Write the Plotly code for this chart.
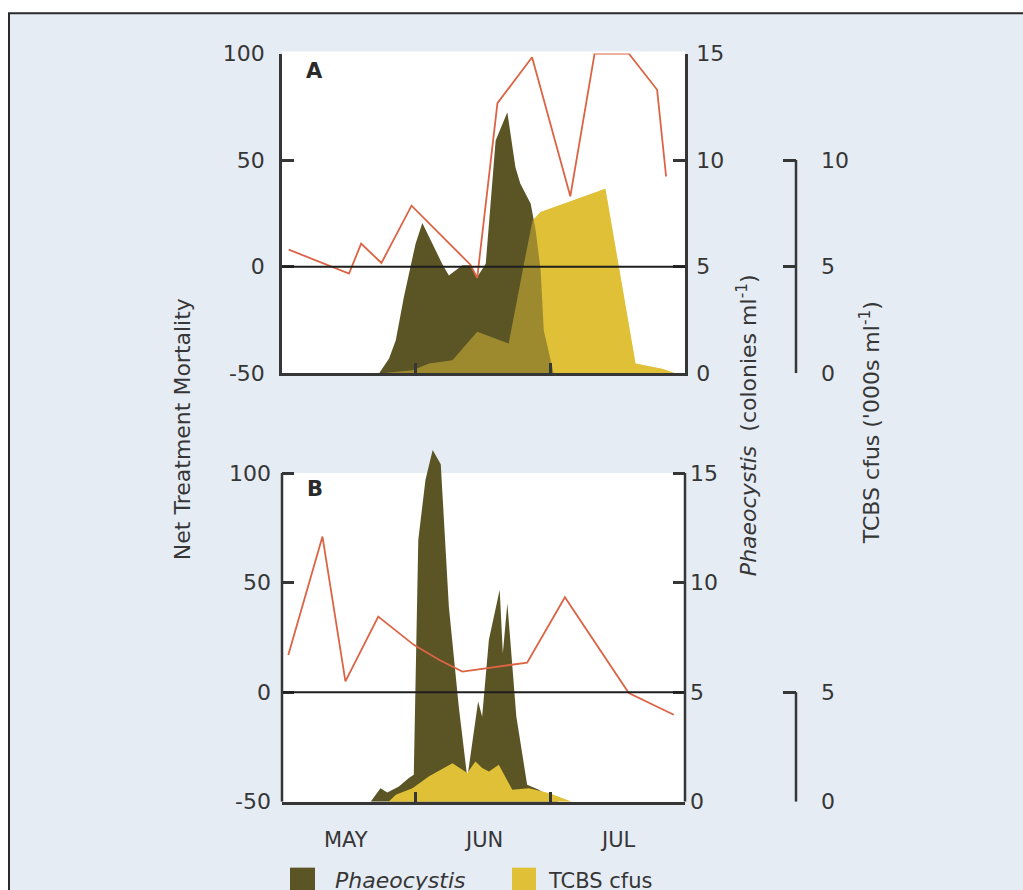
import plotly.graph_objects as go

# ---------------- data (x = days after 30 April: 1 = May 1, 32 = Jun 1, 62 = Jul 1) --------------
# Panel A
mort_A_day = [3.8, 17.2, 19.9, 24.4, 31.1, 44.2, 45.7, 50.2, 57.9, 66.4, 71.8, 79.4, 85.7, 87.7]
mort_A = [8.0, -3.3, 10.8, 1.7, 28.6, 0.9, -5.3, 76.7, 98.3, 33.0, 100.0, 100.0, 83.0, 42.3]

phaeo_A_day = [23.9, 26.1, 27.6, 29.4, 32.0, 33.5, 37.9, 39.4, 42.4, 44.2, 45.7, 47.6, 49.8,
               52.4, 54.2, 55.3, 57.6, 58.7, 59.8, 60.5, 62.7]
phaeo_A = [0, 0.69, 1.55, 3.58, 6.08, 7.05, 5.14, 4.59, 5.06, 5.06, 4.51, 5.14, 10.92,
           12.25, 9.67, 8.89, 7.95, 6.70, 4.83, 2.02, 0]

tcbs_A_day = [24.5, 31.3, 35.0, 40.2, 45.7, 52.7, 56.1, 58.0, 59.8, 74.2, 80.9, 87.0, 89.7]
tcbs_A = [0, 0.14, 0.45, 0.61, 1.94, 1.39, 5.14, 7.17, 7.56, 8.66, 0.45, 0.2, 0]

# Panel B
mort_B_day = [3.7, 11.3, 16.4, 23.7, 31.6, 37.2, 42.4, 47.6, 56.8, 65.2, 79.4, 89.4]
mort_B = [17.0, 71.0, 4.9, 34.5, 21.6, 14.8, 9.4, 10.9, 13.5, 43.3, -0.4, -10.3]

phaeo_B_day = [22.0, 24.2, 25.7, 28.3, 30.5, 31.6, 32.6, 34.2, 35.8, 37.6, 39.4, 41.6, 43.5,
               45.9, 46.8, 48.3, 50.7, 51.4, 52.4, 53.3, 54.4, 56.8, 59.4, 63.8]
phaeo_B = [0, 0.62, 0.42, 0.70, 1.08, 1.23, 11.95, 14.7, 16.05, 15.4, 8.9, 4.35, 1.08,
           4.57, 3.89, 7.39, 9.67, 6.78, 9.06, 6.63, 3.89, 0.78, 0.55, 0]

tcbs_B_day = [26.0, 27.6, 31.3, 35.0, 40.2, 43.5, 45.3, 46.8, 48.3, 50.5, 53.5, 57.2, 61.6, 66.8]
tcbs_B = [0, 0.32, 0.62, 1.16, 1.76, 1.31, 1.84, 1.54, 1.38, 1.69, 0.55, 0.62, 0.40, 0]

month_bounds = [32, 62]
month_labels = ["MAY", "JUN", "JUL"]
month_label_pos = [16.5, 47, 77]

mort_ticks = [-50, 0, 50, 100]
mort_ticktext = ["-50", "0", "50", "100"]
phaeo_ticks = [0, 5, 10, 15]
tcbs_A_ticks = [0, 5, 10]
tcbs_B_ticks = [0, 5]

# ---------------- geometry helpers ----------------
W, H = 1023, 890
# vertical calibration of the rendered page (screen y = CAL_A + CAL_B * figure y)
CAL_A, CAL_B = 11.4, 0.973


def px(x):
    return x / W


def py(y):
    yf = (y - CAL_A) / CAL_B
    return 1 - yf / H


DARK = "#5b5526"
YELLOW = "#dfc036"
RED = "#dc6444"
INK = "#363636"
FONT = "DejaVu Sans"
tickfont = dict(family=FONT, size=22, color=INK)

xdom = [px(282), px(685)]
xrange_ = [2.3, 91.9]
A_dom = [py(373), py(53)]
B_dom = [py(802), py(440)]
B_mort_top = 100 + (473 - 440) / (329 / 150)
B_ph_top = 15 * (802 - 440) / 329

fig = go.Figure()

# Panel A traces (order: yellow, dark, red, yellow translucent overlap)
fig.add_trace(go.Scatter(x=tcbs_A_day, y=tcbs_A, xaxis="x", yaxis="y", mode="lines",
                         line=dict(width=0), fill="tozeroy", fillcolor=YELLOW, hoverinfo="skip"))
fig.add_trace(go.Scatter(x=phaeo_A_day, y=phaeo_A, xaxis="x", yaxis="y2", mode="lines",
                         line=dict(width=0), fill="tozeroy", fillcolor=DARK, hoverinfo="skip"))
fig.add_trace(go.Scatter(x=mort_A_day, y=mort_A, xaxis="x", yaxis="y3", mode="lines",
                         line=dict(width=1.8, color=RED), hoverinfo="skip"))
fig.add_trace(go.Scatter(x=tcbs_A_day, y=tcbs_A, xaxis="x", yaxis="y4", mode="lines",
                         line=dict(width=0), fill="tozeroy", fillcolor="rgba(223,192,54,0.5)",
                         hoverinfo="skip"))

# Panel B traces (order: dark, yellow, red)
fig.add_trace(go.Scatter(x=phaeo_B_day, y=phaeo_B, xaxis="x2", yaxis="y5", mode="lines",
                         line=dict(width=0), fill="tozeroy", fillcolor=DARK, hoverinfo="skip"))
fig.add_trace(go.Scatter(x=tcbs_B_day, y=tcbs_B, xaxis="x2", yaxis="y6", mode="lines",
                         line=dict(width=0), fill="tozeroy", fillcolor=YELLOW, hoverinfo="skip"))
fig.add_trace(go.Scatter(x=mort_B_day, y=mort_B, xaxis="x2", yaxis="y7", mode="lines",
                         line=dict(width=1.8, color=RED), hoverinfo="skip"))

common_y = dict(showgrid=False, zeroline=False, ticks="inside", tickwidth=2.5, tickcolor=INK,
                linecolor=INK, linewidth=2.5, tickfont=tickfont, fixedrange=True)
common_x = dict(domain=xdom, range=xrange_, showgrid=False, zeroline=False, showline=True,
                linecolor=INK, linewidth=2.5, ticks="inside", tickvals=month_bounds, ticklen=10,
                tickwidth=2.5, tickcolor=INK, showticklabels=False, fixedrange=True)

fig.update_layout(
    width=W, height=H, margin=dict(l=0, r=0, t=0, b=0), autosize=False,
    paper_bgcolor="white", plot_bgcolor="rgba(0,0,0,0)", showlegend=False,
    xaxis=dict(**common_x, anchor="y"),
    yaxis=dict(**common_y, domain=A_dom, range=[0, 15], anchor="free", position=px(796),
               side="right", showline=False, tickvals=tcbs_A_ticks, ticklen=13,
               ticklabelstandoff=24),
    yaxis2=dict(**common_y, overlaying="y", anchor="x", side="right", range=[0, 15],
                showline=True, tickvals=phaeo_ticks, ticklen=12, ticklabelstandoff=4),
    yaxis3=dict(**common_y, overlaying="y", anchor="x", side="left", range=[-50, 100],
                showline=True, tickvals=mort_ticks, ticktext=mort_ticktext, ticklen=12,
                ticklabelstandoff=10),
    yaxis4=dict(overlaying="y", range=[0, 15], visible=False, fixedrange=True),
    xaxis2=dict(**common_x, anchor="y5"),
    yaxis5=dict(**common_y, domain=B_dom, range=[0, B_ph_top], anchor="x2", side="right",
                showline=False, tickvals=phaeo_ticks, ticklen=12, ticklabelstandoff=4),
    yaxis6=dict(**common_y, overlaying="y5", anchor="free", position=px(796), side="right",
                range=[0, B_ph_top], showline=False, tickvals=tcbs_B_ticks, ticklen=13,
                ticklabelstandoff=24),
    yaxis7=dict(**common_y, overlaying="y5", anchor="x2", side="left",
                range=[-50, B_mort_top], showline=False, tickvals=mort_ticks,
                ticktext=mort_ticktext, ticklen=12, ticklabelstandoff=10),
)

shapes = [
    # page background with border
    dict(type="rect", xref="paper", yref="paper", x0=px(9), x1=1.05, y0=-0.05, y1=1 - 1.2 / H,
         fillcolor="#e6ecf4", line=dict(color="#2a2a2a", width=2), layer="below"),
    # white plot areas
    dict(type="rect", xref="paper", yref="paper", x0=xdom[0], x1=xdom[1], y0=py(373), y1=py(51),
         fillcolor="white", line=dict(width=0), layer="below"),
    dict(type="rect", xref="paper", yref="paper", x0=xdom[0], x1=xdom[1], y0=py(802), y1=py(473),
         fillcolor="white", line=dict(width=0), layer="below"),
    # zero lines
    dict(type="line", xref="x domain", yref="y3", x0=0, x1=1, y0=0, y1=0,
         line=dict(color="#1e1e1e", width=2), layer="above"),
    dict(type="line", xref="x2 domain", yref="y7", x0=0, x1=1, y0=0, y1=0,
         line=dict(color="#1e1e1e", width=2), layer="above"),
    # TCBS axis brackets
    dict(type="line", xref="paper", yref="y", x0=px(796), x1=px(796), y0=0, y1=10,
         line=dict(color=INK, width=2.5), layer="above"),
    dict(type="line", xref="paper", yref="y6", x0=px(796), x1=px(796), y0=0, y1=5,
         line=dict(color=INK, width=2.5), layer="above"),
    # panel B axis lines (limited to the labelled range)
    dict(type="line", xref="paper", yref="y7", x0=xdom[0], x1=xdom[0], y0=-50, y1=100,
         line=dict(color=INK, width=2.5), layer="above"),
    dict(type="line", xref="paper", yref="y5", x0=xdom[1], x1=xdom[1], y0=0, y1=15,
         line=dict(color=INK, width=2.5), layer="above"),
    # legend swatches
    dict(type="rect", xref="paper", yref="paper", x0=px(290), x1=px(315), y0=py(895), y1=py(868),
         fillcolor=DARK, line=dict(width=0)),
    dict(type="rect", xref="paper", yref="paper", x0=px(512), x1=px(536), y0=py(895), y1=py(868),
         fillcolor=YELLOW, line=dict(width=0)),
]
fig.update_layout(shapes=shapes)


def note(text, x, y, size, angle=0, xanchor="center", xref="paper", color=INK):
    return dict(text=text, x=x, y=y, xref=xref, yref="paper", xanchor=xanchor,
                yanchor="middle", textangle=angle, showarrow=False,
                font=dict(family=FONT, size=size, color=color))


ann = [
    note("<b>A</b>", px(314), py(70), 21, color="#2a2a2a"),
    note("<b>B</b>", px(315), py(489), 21, color="#2a2a2a"),
    note("Net Treatment Mortality", px(182), py(429), 22, angle=-90),
    note("<i>Phaeocystis</i>  (colonies ml<sup>-1</sup>)", px(747), py(425), 22, angle=-90),
    note("TCBS cfus ('000s ml<sup>-1</sup>)", px(870), py(423), 22, angle=-90),
]
for lab, pos in zip(month_labels, month_label_pos):
    ann.append(note(lab, pos, py(840), 21, xref="x2"))
ann.append(note("<i>Phaeocystis</i>", px(333), py(881), 22, xanchor="left"))
ann.append(note("TCBS cfus", px(546), py(881), 21, xanchor="left"))
fig.update_layout(annotations=ann)

fig.write_html("out.html", config={"displayModeBar": False},
               post_script="document.body.style.margin='0';document.body.style.overflow='hidden';")
